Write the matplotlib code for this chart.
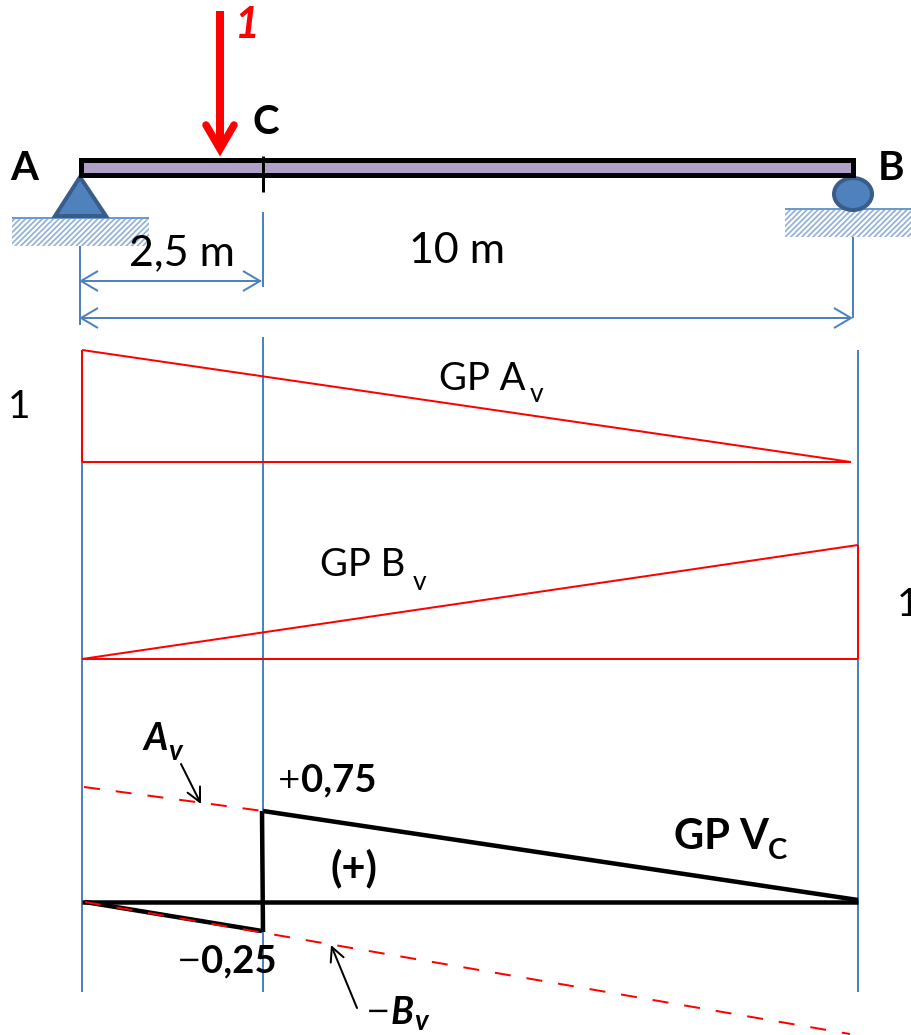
import matplotlib
matplotlib.use("Agg")
import matplotlib.pyplot as plt
from matplotlib.patches import Rectangle, Polygon, Ellipse

plt.rcParams['font.family'] = ['Lato', 'DejaVu Sans']
plt.rcParams['hatch.linewidth'] = 1.2

# geometry (pixel scale of the reference)
x_left, x_c, x_right = 82, 263, 858
beam_x = [81, 853.5]
beam_y = [159.5, 174.5]
av_x = [82, 851]
av_top = [350, 462]
bv_x = [82, 858]
bv_top = [659, 545]
influence_base_av = 462
influence_base_bv = 659
vc_base = 902
vc_pos_x = [263, 858]
vc_pos_y = [811, 900]
vc_jump_x = [262, 263]
vc_jump_y = [811, 932]
vc_neg_x = [85, 262]
vc_neg_y = [902, 931]
av_dash_x = [84, 263]
av_dash_y = [787, 811]
bv_dash_x = [85, 850]
bv_dash_y = [902, 1034]

BLUE = '#4F81BD'
DBLUE = '#385D8A'
RED = '#FF0000'
px = 0.72

fig = plt.figure(figsize=(9.12, 10.35), dpi=100)
ax = fig.add_axes([0, 0, 1, 1])
ax.set_xlim(0, 912)
ax.set_ylim(1035, 0)
ax.axis('off')


def line(xs, ys, color='k', w=2.0, **kw):
    kw.setdefault('solid_capstyle', 'butt')
    ax.plot(xs, ys, color=color, lw=w * px, **kw)


def chevron(x, y, d):
    line([x + d * 17, x, x + d * 17], [y - 10, y, y + 10], BLUE, 2, solid_joinstyle='miter')


def open_arrow(x0, y0, x1, y1, w=2):
    ax.annotate('', xy=(x1, y1), xytext=(x0, y0),
                arrowprops=dict(arrowstyle='->,head_length=1.0,head_width=0.5', color='k',
                                lw=w * px, shrinkA=0, shrinkB=0))


# ground
for gx, gy, gw in [(12, 218, 137), (785, 209, 127)]:
    ax.add_patch(Rectangle((gx, gy), gw, 28, facecolor='white', edgecolor='#8FB0D8',
                           hatch='//////', lw=0))
    line([gx, gx + gw], [gy, gy], '#6F99CC', 2)

# supports
ax.add_patch(Polygon([(80, 177), (55, 216), (106, 216)], closed=True, facecolor=BLUE,
                     edgecolor=DBLUE, lw=4 * px, zorder=3))
ax.add_patch(Ellipse((853, 194), 38, 32, facecolor=BLUE, edgecolor=DBLUE, lw=4 * px, zorder=3))

# beam
ax.add_patch(Rectangle((beam_x[0], beam_y[0]), beam_x[1] - beam_x[0], beam_y[1] - beam_y[0],
                       facecolor='#B1A0C7', edgecolor='k', lw=5 * px, zorder=4))
line([263, 263], [156, 192], 'k', 3, zorder=5)

# load
line([220, 220], [11, 148], RED, 8, zorder=5)
line([206, 220, 234], [125, 149, 125], RED, 7.5, zorder=5, solid_capstyle='round', solid_joinstyle='miter')

# dimensions
line([80, 80], [246, 325], BLUE, 2)
line([263, 263], [212, 287], BLUE, 2)
line([853, 853], [237, 318], BLUE, 2)
line([80, 261], [281, 281], BLUE, 2)
line([80, 851], [318, 318], BLUE, 2)
chevron(81, 281, 1)
chevron(260, 281, -1)
chevron(81, 318, 1)
chevron(851, 318, -1)

# long guides
line([x_left, x_left], [350, 992], BLUE, 2)
line([x_c, x_c], [337, 992], BLUE, 2)
line([x_right, x_right], [350, 992], BLUE, 2)

# GP Av
line([av_x[0], av_x[0]], av_top, RED, 2)
line(av_x, [av_top[0], influence_base_av], RED, 2)
line(av_x, [influence_base_av, influence_base_av], RED, 2)

# GP Bv
line(bv_x, bv_top, RED, 2)
line([bv_x[1], bv_x[1]], [bv_top[1], influence_base_bv], RED, 2)
line(bv_x, [influence_base_bv, influence_base_bv], RED, 2)

# GP Vc
line(av_dash_x, av_dash_y, RED, 2, linestyle=(0, (8, 8)), zorder=3)
line([x_left, x_right], [vc_base, vc_base], 'k', 4.5, zorder=5)
line(vc_pos_x, vc_pos_y, 'k', 4.5, zorder=5)
line(vc_jump_x, vc_jump_y, 'k', 4.5, zorder=5)
line(vc_neg_x, vc_neg_y, 'k', 4.5, zorder=5)
line(bv_dash_x, bv_dash_y, RED, 2, linestyle=(0, (8, 8)), zorder=6)

# small arrows
open_arrow(181, 764, 201, 804)
open_arrow(357, 1008, 331, 945)

# text
fs = 29
tk = dict(va='center', ha='center', color='k', zorder=8)
ax.text(24, 168, 'A', fontsize=fs, fontweight='bold', **tk)
ax.text(266, 123, 'C', fontsize=fs, fontweight='bold', **tk)
ax.text(891, 169, 'B', fontsize=fs, fontweight='bold', **tk)
ax.text(247, 25, '1', fontsize=31, fontweight='bold', style='italic', color=RED, va='center', ha='center')
ax.text(182, 253, '2,5 m', fontsize=31, **tk)
ax.text(457, 251, '10 m', fontsize=31, **tk)
ax.text(19, 407, '1', fontsize=28, **tk)
ax.text(908, 605, '1', fontsize=28, **tk)
ax.text(439, 379, 'GP A', fontsize=27.5, va='center', ha='left')
ax.text(530, 395, 'v', fontsize=19, va='center', ha='left')
ax.text(320, 565, 'GP B', fontsize=27.5, va='center', ha='left')
ax.text(413, 582, 'v', fontsize=19, va='center', ha='left')
ax.text(674, 837, 'GP V', fontsize=30, fontweight='bold', va='center', ha='left')
ax.text(768, 851, 'C', fontsize=21, fontweight='bold', va='center', ha='left')
ax.text(354, 868, '(+)', fontsize=30, fontweight='bold', **tk)
ax.text(277, 780, '+', fontsize=21, family='DejaVu Sans', va='center', ha='left')
ax.text(301, 780, '0,75', fontsize=27.5, fontweight='bold', va='center', ha='left')
ax.text(177, 961, '\u2212', fontsize=21, family='DejaVu Sans', va='center', ha='left')
ax.text(201, 961, '0,25', fontsize=27.5, fontweight='bold', va='center', ha='left')
ax.text(144, 739, 'A', fontsize=27, fontweight='bold', style='italic', va='center', ha='left')
ax.text(168, 752, 'v', fontsize=20, fontweight='bold', style='italic', va='center', ha='left')
ax.text(366, 1012, '\u2212', fontsize=21, family='DejaVu Sans', va='center', ha='left')
ax.text(391, 1012, 'B', fontsize=27, fontweight='bold', style='italic', va='center', ha='left')
ax.text(414, 1022, 'v', fontsize=20, fontweight='bold', style='italic', va='center', ha='left')

fig.savefig('out.png', dpi=100)
